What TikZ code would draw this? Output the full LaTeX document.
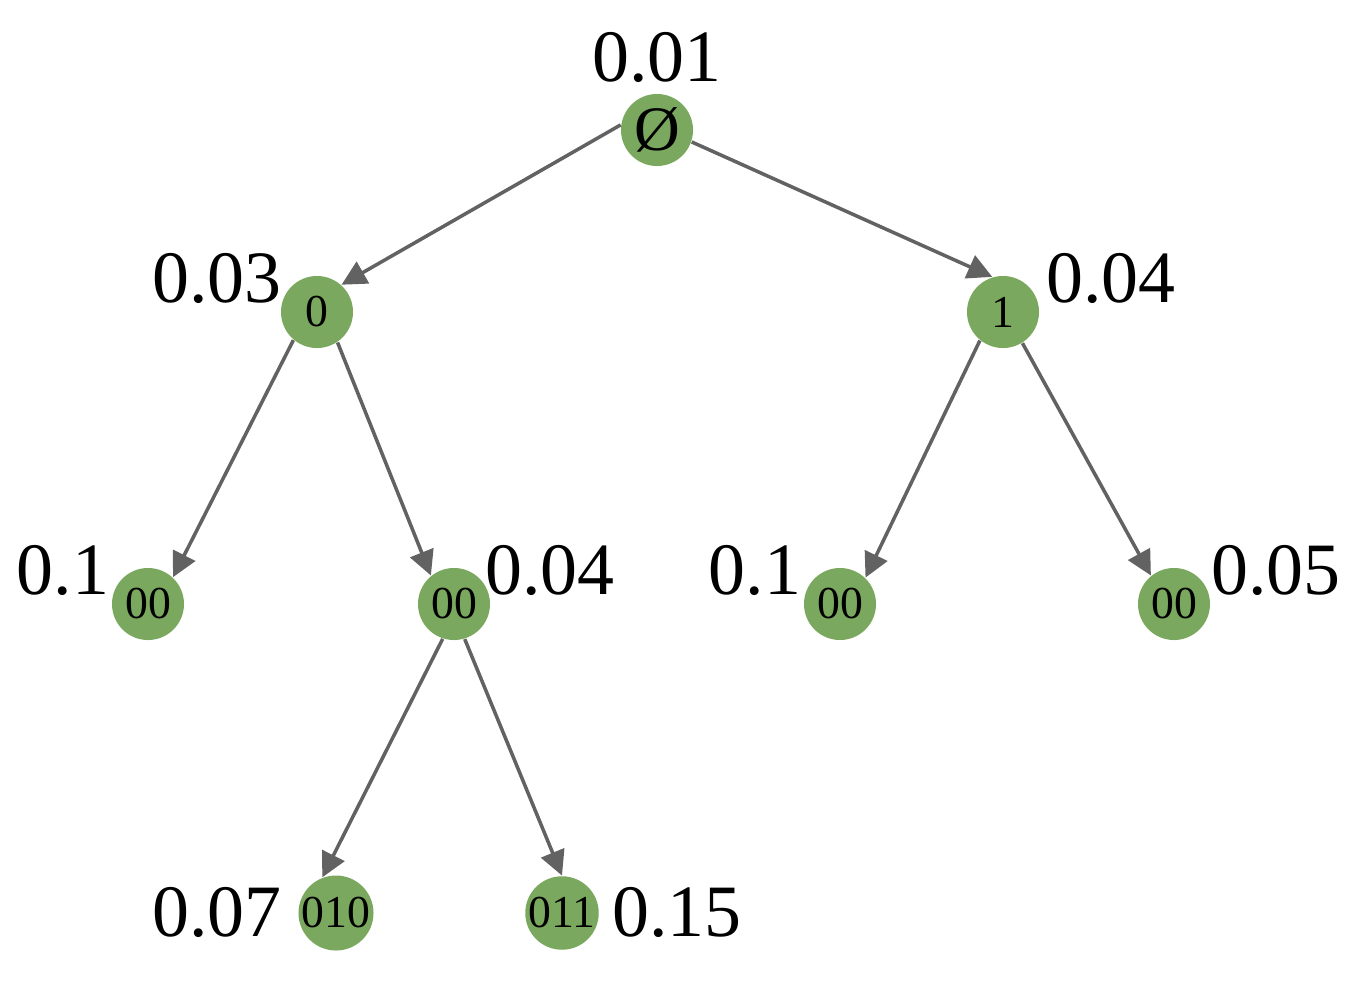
\documentclass[tikz,border=0pt]{standalone}
\usepackage{fontspec}
\setmainfont{Liberation Serif}
\usetikzlibrary{arrows.meta}
\definecolor{leafgreen}{RGB}{122,168,94}
\definecolor{edgegray}{RGB}{98,98,98}
\begin{document}
\begin{tikzpicture}[x=0.01cm,y=-0.01cm,
  trie/.style={circle,fill=leafgreen,minimum size=0.72cm,inner sep=0pt,font=\fontsize{13}{15}\selectfont},
  prob/.style={inner sep=0pt,font=\fontsize{21}{24}\selectfont},
  edge/.style={draw=edgegray,line width=1pt,-{Triangle[length=7pt,width=7pt]}}]
\useasboundingbox (0,0) rectangle (1354,984);
% trie nodes
\node[trie,font=\fontsize{18}{20}\selectfont] (root) at (657,130) {\raisebox{-1pt}{Ø}};
\node[trie] (n0) at (317,312) {0};
\node[trie] (n1) at (1003,312) {1};
\node[trie] (n00) at (148,604) {00};
\node[trie] (n01) at (454,604) {00};
\node[trie] (n10) at (840,604) {00};
\node[trie] (n11) at (1174,604) {00};
\node[trie] (n010) at (336,913) {010};
\node[trie] (n011) at (562,913) {011};
% probabilities
\node[prob] (proot) at (657,57) {0.01};
\node[prob] (pn0) at (217,278) {0.03};
\node[prob] (pn1) at (1111,278) {0.04};
\node[prob] (pn00) at (63,570) {0.1};
\node[prob] (pn01) at (550,570) {0.04};
\node[prob] (pn10) at (755,570) {0.1};
\node[prob] (pn11) at (1276,570) {0.05};
\node[prob] (pn010) at (217,912) {0.07};
\node[prob] (pn011) at (677,912) {0.15};
% edges
\foreach \s/\t in {root.172/n0.48, root.341/n1.107, n0.230/n00.47, n0.304/n01.129,
  n1.231/n10.46, n1.302/n11.129, n01.252/n010.111, n01.287/n011.90}
  \draw[edge] (\s) -- (\t);
\end{tikzpicture}
\end{document}
